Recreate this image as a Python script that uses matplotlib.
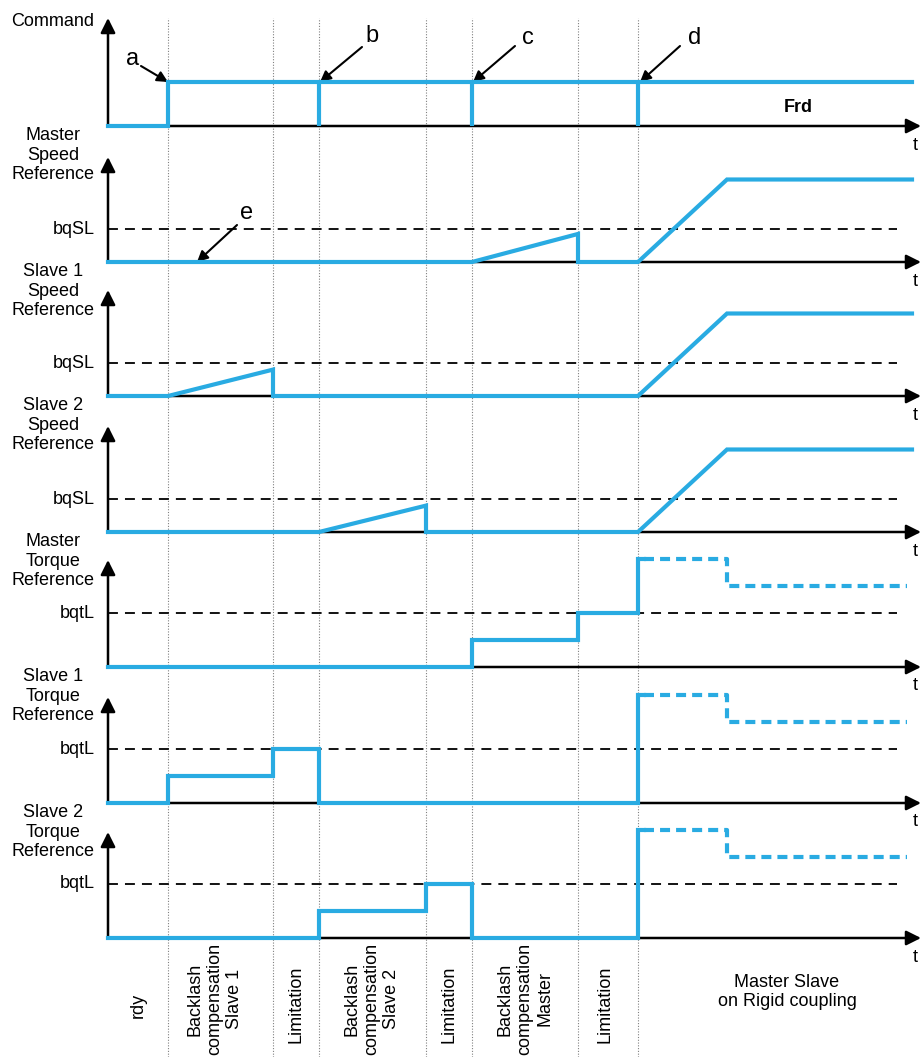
import matplotlib
matplotlib.use("Agg")
import matplotlib.pyplot as plt

plt.rcParams['font.family'] = ['Liberation Sans', 'DejaVu Sans']

W, H = 921, 1057
BLUE = '#29abe2'

# phase boundaries (time units, 1 unit ~ 10 px)
marks = [6.0, 16.5, 21.1, 31.8, 36.4, 47.0, 53.0]
t_end = 80.4
t_max = 81.3

# command: low until a, then high
cmd_t = [0, 6.0, 6.0, t_end]
cmd_y = [0, 0, 1, 1]
cmd_pulses = [21.1, 36.4, 53.0]

# speed references (bqSL = 1)
ms_t = [0, 36.4, 47.0, 47.0, 53.0, 61.9, t_end]
ms_y = [0, 0, 0.85, 0, 0, 2.5, 2.5]
s1s_t = [0, 6.0, 16.5, 16.5, 53.0, 61.9, t_end]
s1s_y = [0, 0, 0.8, 0, 0, 2.5, 2.5]
s2s_t = [0, 21.1, 31.8, 31.8, 53.0, 61.9, t_end]
s2s_y = [0, 0, 0.8, 0, 0, 2.5, 2.5]

# torque references (bqtL = 1), solid part
mt_t = [0, 36.4, 36.4, 47.0, 47.0, 53.0, 53.0, 53.6]
mt_y = [0, 0, 0.5, 0.5, 1, 1, 2.0, 2.0]
s1t_t = [0, 6.0, 6.0, 16.5, 16.5, 21.1, 21.1, 53.0, 53.0, 53.6]
s1t_y = [0, 0, 0.5, 0.5, 1, 1, 0, 0, 2.0, 2.0]
s2t_t = [0, 21.1, 21.1, 31.8, 31.8, 36.4, 36.4, 53.0, 53.0, 53.6]
s2t_y = [0, 0, 0.5, 0.5, 1, 1, 0, 0, 2.0, 2.0]
# dashed part after d
dash_t = [53.6, 61.9, 61.9, 79.9]
dash_y = [2.0, 2.0, 1.5, 1.5]
thr_end = 78.9

# (label, threshold label, baseline px, arrow tip px, px per unit, series)
panels = [
    ('Command', None, 126, 18, 44, (cmd_t, cmd_y), False),
    ('Master\nSpeed\nReference', 'bqSL', 262, 157, 33, (ms_t, ms_y), False),
    ('Slave 1\nSpeed\nReference', 'bqSL', 396, 290, 33, (s1s_t, s1s_y), False),
    ('Slave 2\nSpeed\nReference', 'bqSL', 532, 426, 33, (s2s_t, s2s_y), False),
    ('Master\nTorque\nReference', 'bqtL', 667, 560, 54, (mt_t, mt_y), True),
    ('Slave 1\nTorque\nReference', 'bqtL', 803, 697, 54, (s1t_t, s1t_y), True),
    ('Slave 2\nTorque\nReference', 'bqtL', 938, 832, 54, (s2t_t, s2t_y), True),
]

fig = plt.figure(figsize=(W / 100, H / 100), dpi=100)

x0 = 108
# background axes for the dotted phase lines
bg = fig.add_axes([x0 / W, 0, (W - x0) / W, 1])
bg.set_xlim(0, t_max)
bg.set_ylim(0, 1)
bg.axis('off')
for m in marks:
    bg.axvline(m, ymin=0, ymax=(H - 18) / H, color='#808080', lw=0.8,
               linestyle=(0, (1, 1.5)))

# overlay axes in pixel coordinates for the text
ov = fig.add_axes([0, 0, 1, 1])
ov.set_xlim(0, W)
ov.set_ylim(H, 0)
ov.axis('off')

pad = 12
for i, (lab, thr, base, tip, unit, (ts, ys), dashed) in enumerate(panels):
    bottom = (H - (base + pad)) / H
    height = (base + pad - tip) / H
    ax = fig.add_axes([x0 / W, bottom, (W - x0) / W, height])
    ax.set_xlim(0, t_max)
    ax.set_ylim(-pad / unit, (base - tip) / unit)
    ax.axis('off')
    top = (base - tip) / unit
    # axes arrows
    ax.annotate('', xy=(t_max, 0), xytext=(0, 0),
                arrowprops=dict(arrowstyle='-|>', color='k', lw=1.8,
                                mutation_scale=22, shrinkA=0, shrinkB=0))
    ax.annotate('', xy=(0, top), xytext=(0, 0),
                arrowprops=dict(arrowstyle='-|>', color='k', lw=1.8,
                                mutation_scale=22, shrinkA=0, shrinkB=0))
    if thr:
        ax.plot([0, thr_end], [1, 1], color='k', lw=1.3,
                linestyle=(0, (5.5, 3.9)), clip_on=False)
        ov.text(95, base - unit, thr, ha='right', va='center', fontsize=13)
    ax.plot(ts, ys, color=BLUE, lw=3, solid_joinstyle='miter',
            clip_on=False, zorder=5)
    if dashed:
        ax.plot(dash_t, dash_y, color=BLUE, lw=3,
                linestyle=(0, (2.4, 1.45)), clip_on=False, zorder=5)
    if i == 0:
        ax.vlines(cmd_pulses, 0, 1, color=BLUE, lw=3, zorder=5)
        ov.text(53, 22, lab, ha='center', va='center', fontsize=13)
    else:
        ov.text(53, panels[i - 1][2] + 1, lab, ha='center', va='top',
                fontsize=13, linespacing=1.2)
    ov.text(915, base + 19, 't', ha='center', va='center', fontsize=13)

ov.text(798, 107, 'Frd', ha='center', va='center', fontsize=13,
        fontweight='bold')

# letter callouts
arrow_kw = dict(arrowstyle='-|>', color='k', lw=1.5, mutation_scale=16,
                shrinkA=0, shrinkB=0)
callouts = [('a', (133, 59), (141, 66), (168, 82)),
            ('b', (372, 36), (362, 47), (320, 82)),
            ('c', (528, 38), (515, 46), (473, 82)),
            ('d', (695, 38), (680, 46), (640, 82)),
            ('e', (247, 213), (237, 225), (197, 262))]
for txt, pos, start, end in callouts:
    ov.text(pos[0], pos[1], txt, ha='center', va='center', fontsize=17)
    ov.annotate('', xy=end, xytext=start, arrowprops=arrow_kw)

# phase names along the bottom
phase_x = [138, 215, 296, 372, 449, 525, 605]
phase_y = [1005, 999, 1004, 999, 1004, 999, 1004]
phase_names = ['rdy', 'Backlash\ncompensation\nSlave 1', 'Limitation',
               'Backlash\ncompensation\nSlave 2', 'Limitation',
               'Backlash\ncompensation\nMaster', 'Limitation']
for px, py, name in zip(phase_x, phase_y, phase_names):
    ov.text(px, py, name, rotation=90, ha='center', va='center',
            multialignment='center', fontsize=13, linespacing=1.2)
ov.text(787, 992, 'Master Slave\non Rigid coupling', ha='center',
        va='center', fontsize=13, linespacing=1.2)

fig.savefig('out.png', dpi=100)
